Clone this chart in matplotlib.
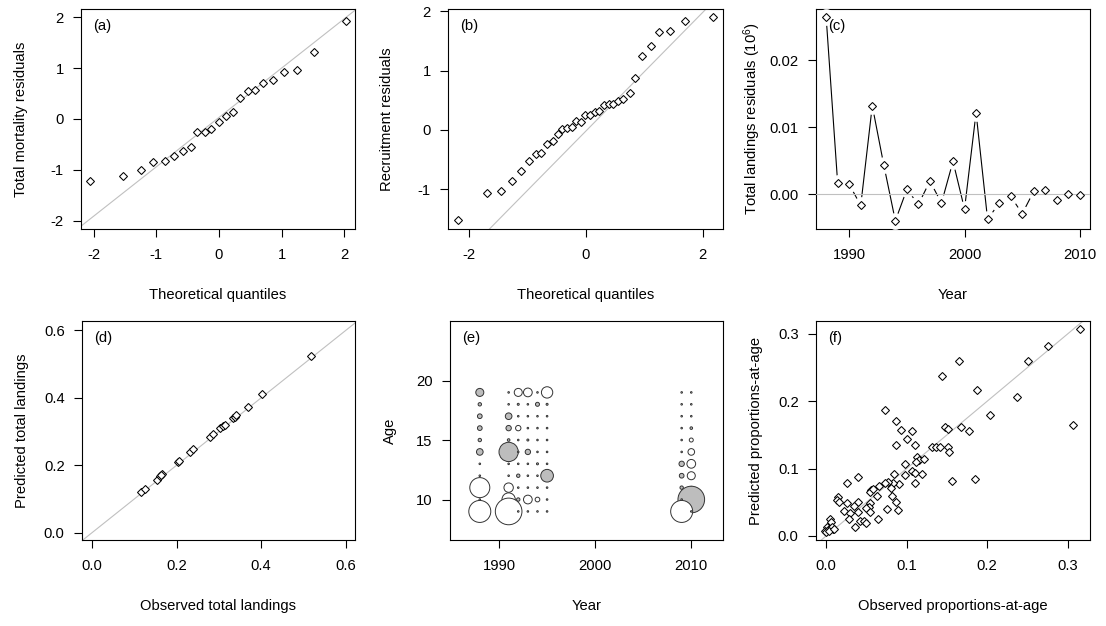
import numpy as np
import matplotlib.pyplot as plt

plt.rcParams.update({"font.family": ["Liberation Sans", "DejaVu Sans"],
                     "font.size": 10.6,
                     "mathtext.default": "regular",
                     "axes.unicode_minus": False,
                     "axes.linewidth": 0.8})

#%%
# (a) QQ plot, total mortality residuals
qa_theo = [-2.05, -1.53, -1.25, -1.05, -0.86, -0.71, -0.57, -0.45, -0.35, -0.23, -0.12, -0.005,
           0.11, 0.22, 0.33, 0.46, 0.57, 0.71, 0.86, 1.03, 1.24, 1.52, 2.03]
qa_resid = [-1.21, -1.12, -1.00, -0.85, -0.83, -0.72, -0.63, -0.55, -0.26, -0.25, -0.20, -0.05,
            0.05, 0.14, 0.41, 0.55, 0.57, 0.70, 0.77, 0.93, 0.97, 1.32, 1.92]

# (b) QQ plot, recruitment residuals
qb_theo = [-2.19, -1.69, -1.46, -1.26, -1.11, -0.98, -0.86, -0.76, -0.67, -0.56, -0.48, -0.40,
           -0.32, -0.24, -0.17, -0.09, -0.006, 0.07, 0.15, 0.23, 0.31, 0.39, 0.47, 0.55, 0.64,
           0.75, 0.85, 0.96, 1.11, 1.25, 1.44, 1.70, 2.18]
qb_resid = [-1.52, -1.07, -1.03, -0.86, -0.685, -0.53, -0.40, -0.39, -0.24, -0.19, -0.07, 0.01,
            0.03, 0.045, 0.15, 0.14, 0.26, 0.26, 0.30, 0.32, 0.42, 0.43, 0.44, 0.49, 0.53,
            0.63, 0.87, 1.24, 1.42, 1.65, 1.67, 1.84, 1.91]

# (c) total landings residuals by year
c_years = list(range(1988, 2011))
c_resid = [0.0264, 0.00164, 0.00149, -0.00164, 0.0132, 0.00437, -0.00392, 0.00074, -0.00149,
           0.00199, -0.00129, 0.00491, -0.00218, 0.01216, -0.00372, -0.00129, -0.00025,
           -0.00288, 0.00045, 0.0006, -0.00079, 0.0001, -0.00005]

# (d) observed vs predicted total landings
d_obs = [0.1145, 0.124, 0.153, 0.161, 0.166, 0.163, 0.202, 0.205, 0.231, 0.239, 0.278,
         0.286, 0.302, 0.310, 0.314, 0.333, 0.337, 0.341, 0.369, 0.401, 0.518]
d_pred = [0.119, 0.130, 0.157, 0.167, 0.173, 0.170, 0.210, 0.213, 0.238, 0.247, 0.285,
          0.292, 0.309, 0.316, 0.320, 0.340, 0.344, 0.348, 0.372, 0.410, 0.525]

# (e) proportions-at-age residuals (bubble plot)
e_years = ([1988] * 11 + [1991] * 11 + [1992] * 11 + [1993] * 11 + [1994] * 11
           + [1995] * 11 + [2009] * 11 + [2010] * 11)
e_ages = list(range(19, 8, -1)) * 8
e_resid = [
    # 1988
    -0.38, -0.068, -0.13, -0.13, -0.068, -0.26, 0.015, 0.015, 2.37, 0.015, 2.86,
    # 1991
    0.015, 0.015, -0.26, -0.17, -0.04, -2.2, 0.015, 0.015, 0.52, 1.05, 4.2,
    # 1992
    0.38, -0.024, 0.015, 0.17, 0.015, 0.015, 0.015, -0.068, 0.015, -0.068, 0.015,
    # 1993
    0.45, 0.015, 0.015, 0.015, -0.024, -0.17, 0.015, 0.015, 0.015, 0.45, 0.015,
    # 1994
    0.015, -0.095, 0.015, 0.015, 0.015, 0.015, -0.024, 0.015, 0.015, 0.13, 0.015,
    # 1995
    0.76, -0.024, 0.015, 0.015, 0.015, 0.015, 0.015, -0.95, 0.015, 0.015, 0.015,
    # 2009
    0.015, 0.015, 0.015, 0.015, 0.015, 0.015, -0.17, -0.13, -0.068, 0.015, 2.86,
    # 2010
    0.015, 0.015, 0.015, -0.04, 0.095, 0.26, 0.45, 0.38, -0.04, -4.2, 0.015,
]

# (f) observed vs predicted proportions-at-age
f_obs = [0.315, 0.276, 0.250, 0.237, 0.306, 0.203, 0.187, 0.165, 0.144, 0.148, 0.151, 0.168,
         0.177, 0.132, 0.137, 0.141, 0.151, 0.152, 0.156, 0.185, 0.073, 0.087, 0.093, 0.106,
         0.100, 0.110, 0.087, 0.113, 0.115, 0.122, 0.112, 0.098, 0.106, 0.110, 0.119, 0.098,
         0.084, 0.110, 0.091, 0.083, 0.077, 0.073, 0.066, 0.080, 0.026, 0.039, 0.056, 0.055,
         0.058, 0.063, 0.082, 0.015, 0.014, 0.016, 0.026, 0.040, 0.035, 0.054, 0.053, 0.087,
         0.050, 0.022, 0.030, 0.039, 0.055, 0.075, 0.089, 0.028, 0.042, 0.047, 0.050, 0.036,
         0.065, 0.005, 0.006, 0.001, -0.002, 0.003, 0.009, 0.007, 0.0, 0.004, 0.010]
f_pred = [0.307, 0.282, 0.259, 0.206, 0.164, 0.180, 0.216, 0.259, 0.237, 0.161, 0.159, 0.161,
          0.156, 0.132, 0.132, 0.132, 0.132, 0.125, 0.082, 0.085, 0.187, 0.170, 0.157, 0.156,
          0.144, 0.135, 0.135, 0.117, 0.112, 0.114, 0.110, 0.107, 0.097, 0.093, 0.092, 0.090,
          0.092, 0.078, 0.077, 0.079, 0.080, 0.078, 0.074, 0.071, 0.078, 0.087, 0.068, 0.065,
          0.070, 0.059, 0.059, 0.058, 0.054, 0.050, 0.049, 0.050, 0.045, 0.049, 0.043, 0.050,
          0.041, 0.037, 0.034, 0.035, 0.035, 0.040, 0.038, 0.025, 0.022, 0.022, 0.019, 0.014,
          0.025, 0.025, 0.020, 0.013, 0.008, 0.011, 0.010, 0.014, 0.006, 0.008, 0.010]

#%%
W, H = 1106, 626
fig = plt.figure(figsize=(W / 100, H / 100), dpi=100)


def add_panel(left, top, right, bottom):
    return fig.add_axes([left / W, 1 - bottom / H, (right - left) / W, (bottom - top) / H])


def setup(ax, xlabel, ylabel, tag):
    ax.set_xlabel(xlabel)
    ax.set_ylabel(ylabel)
    ax.xaxis.set_label_coords(0.5, -0.27)
    ax.yaxis.set_label_coords(-0.195, 0.5)
    ax.tick_params(axis="both", direction="out", length=5.5, width=0.8)
    ax.tick_params(axis="x", pad=8.5)
    ax.tick_params(axis="y", pad=7)
    ax.text(0.045, 0.955, tag, transform=ax.transAxes, va="top", ha="left")


diamond = dict(marker="D", ms=3.8, mfc="white", mec="black", mew=0.75, linestyle="none")
ref_line = dict(color="#c0c0c0", linewidth=0.8)

# (a)
ax = add_panel(81, 9, 355, 229)
ax.axline((0, 0.03), slope=0.97, zorder=1, **ref_line)
ax.plot(qa_theo, qa_resid, zorder=3, **diamond)
ax.set_xlim(-2.2, 2.17)
ax.set_ylim(-2.16, 2.16)
ax.set_xticks([-2, -1, 0, 1, 2])
ax.set_yticks([-2, -1, 0, 1, 2])
setup(ax, "Theoretical quantiles", "Total mortality residuals", "(a)")

# (b)
ax = add_panel(448, 9, 723, 229)
ax.axline((0, -0.02), slope=1.0, zorder=1, **ref_line)
ax.plot(qb_theo, qb_resid, zorder=3, **diamond)
ax.set_xlim(-2.36, 2.35)
ax.set_ylim(-1.67, 2.04)
ax.set_xticks([-2, 0, 2])
ax.set_yticks([-1, 0, 1, 2])
setup(ax, "Theoretical quantiles", "Recruitment residuals", "(b)")

# (c)
ax = add_panel(816, 9, 1090, 229)
ax.plot(c_years, c_resid, color="black", linewidth=0.8, zorder=2)
ax.plot(c_years, c_resid, marker="o", ms=11, mfc="white", mec="white", linestyle="none", zorder=3)
ax.axhline(0, zorder=4, **ref_line)
ax.plot(c_years, c_resid, zorder=5, **diamond)
ax.set_xlim(1987.12, 2010.88)
ax.set_ylim(-0.00515, 0.0276)
ax.set_xticks([1990, 2000, 2010])
ax.set_yticks([0.0, 0.01, 0.02])
ax.set_yticklabels(["0.00", "0.01", "0.02"])
setup(ax, "Year", "Total landings residuals (10$^{6}$)", "(c)")

# (d)
ax = add_panel(82, 321, 355, 540)
ax.axline((0, 0), slope=1.0, zorder=1, **ref_line)
ax.plot(d_obs, d_pred, zorder=3, **diamond)
ax.set_xlim(-0.024, 0.622)
ax.set_ylim(-0.022, 0.628)
ax.set_xticks([0.0, 0.2, 0.4, 0.6])
ax.set_yticks([0.0, 0.2, 0.4, 0.6])
setup(ax, "Observed total landings", "Predicted total landings", "(d)")

# (e)
ax = add_panel(450, 321, 723, 540)
e_years_a = np.array(e_years)
e_ages_a = np.array(e_ages)
e_resid_a = np.array(e_resid)
radius_px = 6.5 * np.sqrt(np.abs(e_resid_a))
sizes = (2 * radius_px * 72 / 100) ** 2
for sign_mask, face in [(e_resid_a < 0, "#bdbdbd"), (e_resid_a >= 0, "white")]:
    ax.scatter(e_years_a[sign_mask], e_ages_a[sign_mask], s=sizes[sign_mask],
               facecolor=face, edgecolor="#333333", linewidth=0.7, zorder=3)
ax.set_xlim(1984.9, 2013.3)
ax.set_ylim(6.6, 25.0)
ax.set_xticks([1990, 2000, 2010])
ax.set_yticks([10, 15, 20])
setup(ax, "Year", "Age", "(e)")

# (f)
ax = add_panel(816, 321, 1090, 540)
ax.axline((0, 0), slope=1.0, zorder=1, **ref_line)
ax.plot(f_obs, f_pred, zorder=3, **diamond)
ax.set_xlim(-0.0126, 0.3276)
ax.set_ylim(-0.006, 0.319)
ax.set_xticks([0.0, 0.1, 0.2, 0.3])
ax.set_yticks([0.0, 0.1, 0.2, 0.3])
setup(ax, "Observed proportions-at-age", "Predicted proportions-at-age", "(f)")

fig.savefig("out.png", dpi=100)
